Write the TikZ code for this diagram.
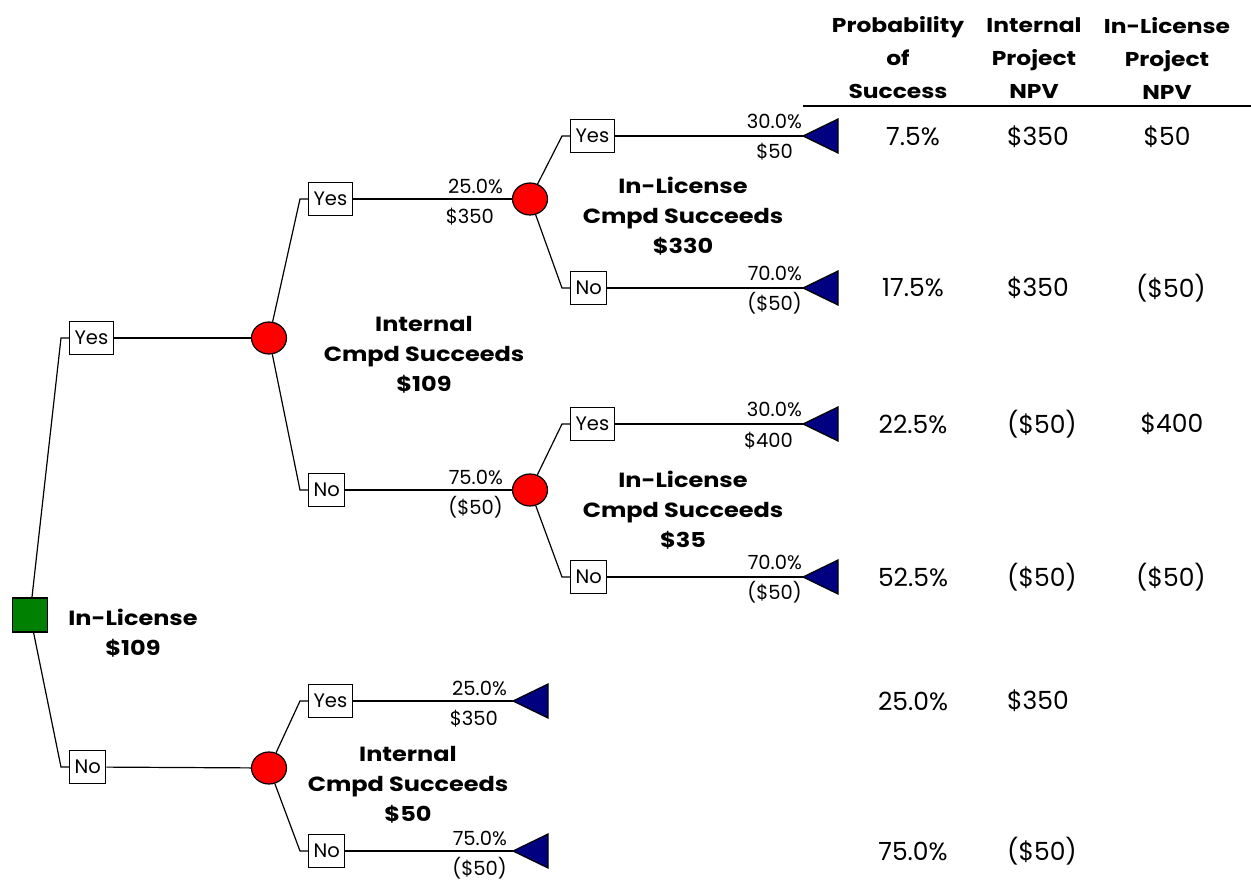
\documentclass[tikz,border=0pt]{standalone}
\usepackage{fontspec}
\setmainfont{Poppins}
\newfontfamily\widefont[FakeStretch=1.17]{Poppins}
\usetikzlibrary{shapes.geometric}
\definecolor{navy}{RGB}{0,0,128}
\definecolor{dgreen}{RGB}{0,128,0}
\newcommand\lblfont{\fontsize{19.5}{22}\selectfont}
\newcommand\tabfont{\fontsize{25}{30}\selectfont}
\newcommand\boldlbl{\widefont\fontsize{20.5}{30}\selectfont\bfseries}
\newcommand\hdrfont{\widefont\fontsize{20}{33}\selectfont\bfseries}
\newcommand\pz{\phantom{)}}
\tikzset{
  branch/.style={draw, line width=1.1pt, fill=white, minimum height=33, inner xsep=5, inner ysep=0, anchor=west, font=\lblfont},
  chance/.style={ellipse, draw, fill=red, line width=1.2pt, minimum width=35, minimum height=32, inner sep=0},
  dec/.style={rectangle, draw, fill=dgreen, minimum width=35, minimum height=34, line width=1.2pt, inner sep=0},
  edge/.style={line width=1.2pt},
  endtri/.style={draw, fill=navy, line width=1.2pt, line join=miter},
  prob/.style={anchor=east, font=\lblfont, inner sep=0},
  tab/.style={font=\tabfont, inner sep=0},
  blbl/.style={font=\boldlbl, align=center, inner sep=0},
  hdr/.style={font=\hdrfont, align=center, inner sep=0}
}
\begin{document}
\begin{tikzpicture}[x=1pt,y=-1pt]
\useasboundingbox (0,0) rectangle (1251,881);
% nodes
\node[dec] (d0) at (30,615) {};
\node[chance] (c1) at (269,338) {};
\node[chance] (c2) at (269,768) {};
\node[chance] (c3) at (530,199) {};
\node[chance] (c4) at (530,490) {};
% elbows
\coordinate (e1) at (61,338);
\coordinate (e2) at (61,767);
\coordinate (e3) at (300,199);
\coordinate (e4) at (300,490);
\coordinate (e5) at (300,701);
\coordinate (e6) at (300,851);
\coordinate (e7) at (562,136);
\coordinate (e8) at (562,288);
\coordinate (e9) at (562,424);
\coordinate (e10) at (562,577);
% boxes
\node[branch] (b1) at (69,338) {Yes};
\node[branch] (b2) at (69,767) {No};
\node[branch] (b3) at (308,199) {Yes};
\node[branch] (b4) at (308,490) {No};
\node[branch] (b5) at (308,701) {Yes};
\node[branch] (b6) at (308,851) {No};
\node[branch] (b7) at (570,136) {Yes};
\node[branch] (b8) at (570,288) {No};
\node[branch] (b9) at (570,424) {Yes};
\node[branch] (b10) at (570,577) {No};
% terminal tips
\coordinate (t1) at (803,136);
\coordinate (t2) at (803,288);
\coordinate (t3) at (803,424);
\coordinate (t4) at (803,577);
\coordinate (t5) at (513,701);
\coordinate (t6) at (513,851);
% connectors
\draw[edge] (d0) -- (e1) -- (b1);
\draw[edge] (d0) -- (e2) -- (b2);
\draw[edge] (b1) -- (c1);
\draw[edge] (b2) -- (c2);
\draw[edge] (c1) -- (e3) -- (b3);
\draw[edge] (c1) -- (e4) -- (b4);
\draw[edge] (b3) -- (c3);
\draw[edge] (b4) -- (c4);
\draw[edge] (c2) -- (e5) -- (b5);
\draw[edge] (c2) -- (e6) -- (b6);
\draw[edge] (c3) -- (e7) -- (b7);
\draw[edge] (c3) -- (e8) -- (b8);
\draw[edge] (c4) -- (e9) -- (b9);
\draw[edge] (c4) -- (e10) -- (b10);
\draw[edge] (b5) -- (t5);
\draw[edge] (b6) -- (t6);
\draw[edge] (b7) -- (t1);
\draw[edge] (b8) -- (t2);
\draw[edge] (b9) -- (t3);
\draw[edge] (b10) -- (t4);
% triangles
\foreach \t in {t1,t2,t3,t4,t5,t6}{
  \draw[endtri] (\t) -- ++(35,-17) -- ++(0,34) -- cycle;
}
% branch labels
\node[prob] (p3) at (503,186) {25.0\%};
\node[prob] (v3) at (503,216) {\$350\pz};
\node[prob] (p4) at (503,477) {75.0\%};
\node[prob] (v4) at (503,507) {(\$50)};
\node[prob] (p5) at (507,688) {25.0\%};
\node[prob] (v5) at (507,718) {\$350\pz};
\node[prob] (p6) at (507,838) {75.0\%};
\node[prob] (v6) at (507,868) {(\$50)};
\node[prob] (p7) at (802,121) {30.0\%};
\node[prob] (v7) at (802,151) {\$50\pz};
\node[prob] (p8) at (802,273) {70.0\%};
\node[prob] (v8) at (802,303) {(\$50)};
\node[prob] (p9) at (802,409) {30.0\%};
\node[prob] (v9) at (802,440) {\$400\pz};
\node[prob] (p10) at (802,562) {70.0\%};
\node[prob] (v10) at (802,592) {(\$50)};
% node labels
\node[blbl] (l0) at (133,633) {In-License\\\$109};
\node[blbl] (l1) at (424,355) {Internal\\Cmpd Succeeds\\\$109};
\node[blbl] (l2) at (408,785) {Internal\\Cmpd Succeeds\\\$50};
\node[blbl] (l3) at (683,216) {In-License\\Cmpd Succeeds\\\$330};
\node[blbl] (l4) at (683,510) {In-License\\Cmpd Succeeds\\\$35};
% table header
\node[hdr] (h1) at (898,58) {Probability\\of\\Success};
\node[hdr] (h2) at (1034,58) {Internal\\Project\\NPV};
\node[hdr] (h3) at (1167,58) {In-License\\Project\\NPV};
\coordinate (rl) at (803,106);
\coordinate (rr) at (1251,106);
\draw[line width=1.8pt] (rl) -- (rr);
% table rows
\node[tab] (r1a) at (913,137) {7.5\%};
\node[tab] (r1b) at (1038,137) {\$350};
\node[tab] (r1c) at (1167,137) {\$50};
\node[tab] (r2a) at (913,288) {17.5\%};
\node[tab] (r2b) at (1038,288) {\$350};
\node[tab] (r2c) at (1171,288) {(\$50)};
\node[tab] (r3a) at (913,424) {22.5\%};
\node[tab] (r3b) at (1042,424) {(\$50)};
\node[tab] (r3c) at (1172,424) {\$400};
\node[tab] (r4a) at (913,577) {52.5\%};
\node[tab] (r4b) at (1042,577) {(\$50)};
\node[tab] (r4c) at (1171,577) {(\$50)};
\node[tab] (r5a) at (913,701) {25.0\%};
\node[tab] (r5b) at (1038,701) {\$350};
\node[tab] (r6a) at (913,851) {75.0\%};
\node[tab] (r6b) at (1042,851) {(\$50)};
\end{tikzpicture}
\end{document}
